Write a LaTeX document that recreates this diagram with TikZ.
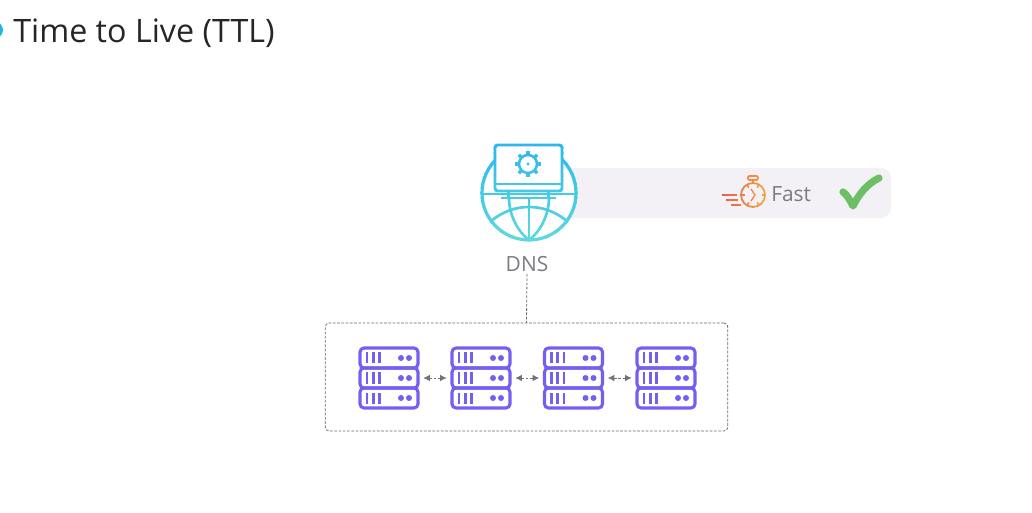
\documentclass[tikz,border=0pt]{standalone}
\usepackage{fontspec}
\setmainfont{Open Sans}
\usetikzlibrary{arrows.meta}
\definecolor{dnstop}{HTML}{2BB8EE}
\definecolor{dnsbot}{HTML}{5DD9DE}
\definecolor{watchred}{HTML}{E85D4F}
\definecolor{watchorange}{HTML}{F2A03D}
\definecolor{rackviolet}{HTML}{7360F2}
\definecolor{labelgrey}{HTML}{7C7B82}
\definecolor{bandgrey}{HTML}{F3F1F5}
\definecolor{tickgreen}{HTML}{6CBF66}
\tikzset{
  titletext/.style={anchor=west,inner sep=0pt,text=black!85,font=\fontsize{24.2}{28}\selectfont},
  greytext/.style={inner sep=0pt,text=labelgrey,font=\fontsize{15.7}{19}\selectfont},
  dashline/.style={draw=black!60,line width=0.6pt,dash pattern=on 2pt off 1.2pt},
  rackbox/.style={inner sep=0pt,minimum width=45pt,minimum height=45pt},
  linkarrow/.style={dashline,draw=black!55,line width=0.7pt,shorten >=3pt,shorten <=3pt,{Latex[length=5pt,width=5pt]}-{Latex[length=5pt,width=5pt]}},
  rackunit/.pic={
    \draw [rackviolet,line width=2.3pt,rounded corners=3pt] (-29,-10) rectangle (29,10);
    \foreach \b in {-22,-15.7,-9.4} \draw [rackviolet,line width=2pt] (\b,-5.5) -- (\b,5.5);
    \foreach \d in {12,20} \fill [rackviolet] (\d,0) circle (3);
  }
}
\newcommand{\dnsicon}{
  %globe
  \draw [line width=2.4pt,fill=white] (529,193) circle (47);
  \draw [line width=2pt] (482,194) -- (576,194);
  \draw [line width=2pt] (529,198) -- (529,240);
  \draw [line width=2pt] (509,198) .. controls (509,215) and (518,232) .. (529,240) .. controls (540,232) and (549,215) .. (549,198);
  \draw [line width=2pt] (490,222) .. controls (503,211) and (516,207) .. (529,207) .. controls (542,207) and (555,211) .. (568,222);
  %laptop
  \draw [line width=2.2pt,fill=white,rounded corners=2pt] (495,145) rectangle (562,191);
  \draw [line width=2pt] (495,184) -- (562,184);
  \draw [line width=2.6pt] (508.5,191) -- (508.5,198) (548.5,191) -- (548.5,198);
  \draw [line width=2pt] (501,198) -- (556,198);
  %gear
  \draw [line width=1.9pt] (528,164) circle (9);
  \foreach \a in {0,45,...,315} \draw [line width=2.6pt] (528,164) ++(\a:9) -- ++(\a:4);
  \fill (528,164) circle (1.6);
}
\newcommand{\watchicon}{
  \draw [line width=1.3pt] (753,195) circle (12);
  \draw [line width=1.3pt] (753,183) -- (753,180);
  \draw [line width=1.2pt,rounded corners=1pt] (748,176) rectangle (758,180);
  \foreach \a in {0,60,...,300} \draw [line width=1pt] (753,195) ++(\a:12) -- ++(\a:-3.5);
  \draw [line width=1pt] (751,189) -- (755,195) -- (751,201);
  \draw [line width=1.4pt] (722,195) -- (737,195) (726,200) -- (738,200) (731,205) -- (741,205);
}
\begin{document}
\begin{tikzpicture}[x=0.75pt,y=0.75pt,yscale=-1,xscale=1]
\useasboundingbox (0,0) rectangle (1032,513);

% Title
\fill [color={rgb,255:red,29;green,184;blue,224}] (-5,30) circle (8);
\node (title) [titletext] at (13,33.5) {Time to Live (TTL)};

% Band behind the globe
\fill [bandgrey,rounded corners=7.5pt] (540,168) rectangle (891,218);

% DNS icon
\foreach \s in {0,...,19} {
  \pgfmathsetmacro{\p}{100-\s*100/19}
  \begin{scope}
    \clip (470,{143+\s*5}) rectangle (590,{143+(\s+1)*5+0.4});
    \begin{scope}[color=dnstop!\p!dnsbot,draw=dnstop!\p!dnsbot,fill=dnstop!\p!dnsbot]
      \dnsicon
    \end{scope}
  \end{scope}
}
\node (dns) [greytext] at (527,264) {DNS};
\coordinate (dnsfoot) at (527,274);

% Stopwatch
\foreach \s in {0,...,9} {
  \pgfmathsetmacro{\p}{100-\s*100/9}
  \begin{scope}
    \clip ({720+\s*4.7},170) rectangle ({720+(\s+1)*4.7+0.3},212);
    \begin{scope}[color=watchred!\p!watchorange]
      \watchicon
    \end{scope}
  \end{scope}
}
\node (fast) [greytext,anchor=west] at (771,194) {Fast};

% Check mark
\draw [tickgreen,line width=5.4pt,line cap=round,line join=round] (843,192) .. controls (847,195) and (850,200) .. (853,206) .. controls (859,194) and (867,184) .. (879,178);

% Frame around the servers
\node (frame) [dashline,draw,rounded corners=3pt,inner sep=0pt,minimum width=302pt,minimum height=81pt] at (526.5,377) {};
\draw [dashline] (dnsfoot) -- (frame.north);

% Server racks
\foreach \i/\cx in {1/389,2/481,3/573.5,4/666} {
  \node (rack\i) [rackbox] at (\cx,378) {};
  \foreach \u in {358,378,398} \path (\cx,\u) pic {rackunit};
}
\foreach \i/\j in {1/2,2/3,3/4} \draw [linkarrow] (rack\i) -- (rack\j);

\end{tikzpicture}
\end{document}
